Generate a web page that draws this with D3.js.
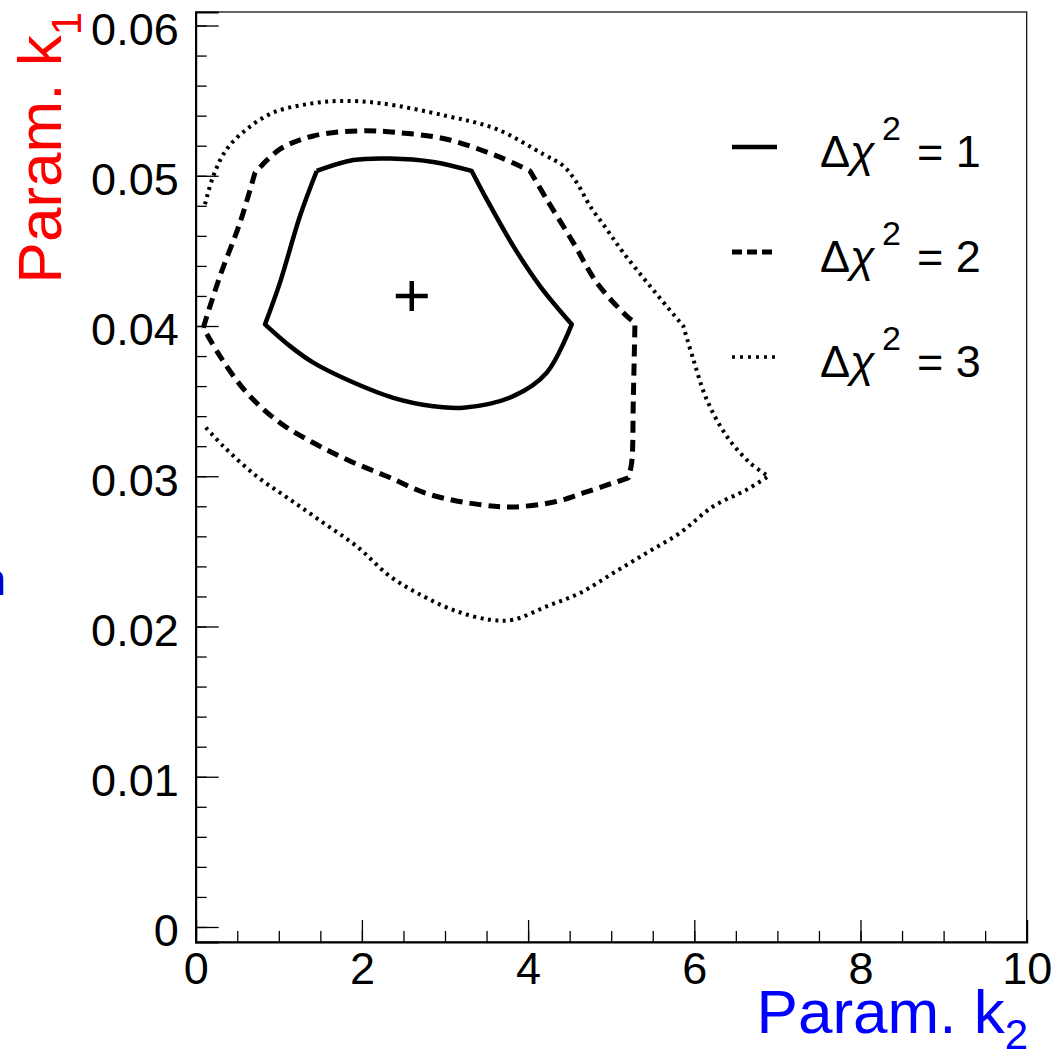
<!DOCTYPE html>
<html>
<head>
<meta charset="utf-8">
<script src="https://cdn.jsdelivr.net/npm/d3@7"></script>
<style>
  body { margin: 0; background: #fff; }
  svg { display: block; font-family: "Liberation Sans", Arial, Helvetica, sans-serif; }
</style>
</head>
<body>
<svg id="canvas" width="1055" height="1052"></svg>
<script>
// contour points as [k2, k1]
let contour1 = [
  [1.456, 0.05032], [1.897, 0.05105], [2.338, 0.05115], [2.859, 0.05092], [3.321, 0.05032],
  [3.502, 0.04843], [3.822, 0.04532], [4.143, 0.04266], [4.525, 0.04011],
  [4.224, 0.03689], [3.822, 0.03533], [3.220, 0.03456], [2.859, 0.03466], [2.378, 0.03522],
  [1.817, 0.03644], [1.415, 0.03756], [1.135, 0.03866], [0.834, 0.04011],
  [1.014, 0.04289], [1.255, 0.04732], [1.456, 0.05032]
]
let corners1 = [0, 4, 8, 17, 20]

let contour2 = [
  [0.091, 0.03989], [0.292, 0.04332], [0.533, 0.04688], [0.714, 0.05021], [1.014, 0.05177],
  [1.415, 0.05265], [1.977, 0.05299], [2.419, 0.05288], [3.020, 0.05243], [3.622, 0.05132],
  [4.023, 0.05032], [4.224, 0.04843], [4.544, 0.04555], [4.826, 0.04289], [5.187, 0.04066],
  [5.286, 0.04022], [5.266, 0.03511], [5.246, 0.03089], [5.206, 0.02989], [4.664, 0.02889],
  [4.324, 0.02830], [3.822, 0.02796], [3.421, 0.02811], [2.820, 0.02878], [2.298, 0.03000],
  [1.817, 0.03111], [1.415, 0.03223], [1.014, 0.03356], [0.614, 0.03556], [0.292, 0.03800],
  [0.091, 0.03989]
]
let corners2 = [0, 3, 10, 15, 18, 30]

let contour3 = [
  [0.112, 0.04810], [0.212, 0.04999], [0.373, 0.05177], [0.614, 0.05310], [0.934, 0.05421],
  [1.336, 0.05476], [1.736, 0.05498], [2.218, 0.05483], [3.020, 0.05398], [3.622, 0.05310],
  [4.183, 0.05143], [4.424, 0.05065], [4.585, 0.04955], [4.745, 0.04799], [4.946, 0.04644],
  [5.146, 0.04488], [5.467, 0.04266], [5.868, 0.03999], [5.988, 0.03778], [6.149, 0.03511],
  [6.390, 0.03267], [6.670, 0.03089], [6.891, 0.03000],
  [6.631, 0.02911], [6.229, 0.02800], [5.828, 0.02623], [5.427, 0.02490], [5.025, 0.02356],
  [4.625, 0.02223], [4.224, 0.02134], [3.822, 0.02045], [3.541, 0.02045], [3.141, 0.02101],
  [2.739, 0.02201], [2.338, 0.02334], [1.937, 0.02534], [1.536, 0.02690], [1.135, 0.02845],
  [0.734, 0.03000], [0.332, 0.03200], [0.091, 0.03344]
]
let corners3 = [0, 17, 22, 40]

let bestFit = [2.60, 0.0420]
let legendLabels = ['1', '2', '3']
let xTicks = [0, 2, 4, 6, 8, 10]
let xMinorTicks = d3.range(0, 10.001, 0.5)
let yTicks = [0, 0.01, 0.02, 0.03, 0.04, 0.05, 0.06]
let yMinorTicks = d3.range(0, 0.0601, 0.002)

let canvas = d3.select('#canvas')

let xScale = d3.scaleLinear().domain([0, 10]).range([195.7, 1026.7])
let yScale = d3.scaleLinear().domain([-0.001, 0.0609]).range([942, 12])

let line = d3.line()
  .x((d) => xScale(d[0]))
  .y((d) => yScale(d[1]))
  .curve(d3.curveCatmullRom.alpha(0.5))

// smooth between corners, sharp at corners, one continuous subpath
let contourPath = (points, corners) => {
  let d = ''
  for (let i = 0; i < corners.length - 1; i++) {
    let seg = line(points.slice(corners[i], corners[i + 1] + 1))
    d += i === 0 ? seg : 'L' + seg.slice(1)
  }
  return d
}

// frame
canvas.append('rect')
  .attr('x', xScale.range()[0])
  .attr('y', yScale.range()[1])
  .attr('width', xScale.range()[1] - xScale.range()[0])
  .attr('height', yScale.range()[0] - yScale.range()[1])
  .attr('fill', 'none')
  .attr('stroke', '#000')
  .attr('stroke-width', 1.2)

// x axis
let xMinor = canvas.append('g')
  .attr('transform', 'translate(0,942)')
  .call(d3.axisBottom(xScale).tickValues(xMinorTicks).tickSize(-11).tickFormat(''))
xMinor.select('.domain').remove()

let xMajor = canvas.append('g')
  .attr('transform', 'translate(0,942)')
  .call(d3.axisBottom(xScale).tickValues(xTicks).tickSize(-22).tickPadding(10).tickFormat(d3.format('d')))
xMajor.select('.domain').attr('stroke-width', 2)
xMajor.selectAll('text')
  .attr('font-size', 45)
  .attr('font-family', '"Liberation Sans", Arial, sans-serif')

// y axis
let yMinor = canvas.append('g')
  .attr('transform', 'translate(195.7,0)')
  .call(d3.axisLeft(yScale).tickValues(yMinorTicks).tickSize(-11).tickFormat(''))
yMinor.select('.domain').remove()

let yMajor = canvas.append('g')
  .attr('transform', 'translate(195.7,0)')
  .call(d3.axisLeft(yScale).tickValues(yTicks).tickSize(-23).tickPadding(17)
    .tickFormat((d) => d === 0 ? '0' : d3.format('.2f')(d)))
yMajor.select('.domain').attr('stroke-width', 2)
yMajor.selectAll('text')
  .attr('font-size', 45)
  .attr('dy', '0.42em')
  .attr('font-family', '"Liberation Sans", Arial, sans-serif')

canvas.selectAll('.tick line').attr('stroke-width', 1.3)

// contours
let styles = [
  { data: contour1, corners: corners1, dash: null, width: 4.5 },
  { data: contour2, corners: corners2, dash: '12,7', width: 5 },
  { data: contour3, corners: corners3, dash: '3,4.5', width: 4 }
]

canvas.selectAll('path.contour')
  .data(styles)
  .enter()
  .append('path')
  .attr('class', 'contour')
  .attr('d', (s) => contourPath(s.data, s.corners))
  .attr('fill', 'none')
  .attr('stroke', '#000')
  .attr('stroke-width', (s) => s.width)
  .attr('stroke-dasharray', (s) => s.dash)
  .attr('stroke-linejoin', 'round')

// best fit marker
let bx = xScale(bestFit[0])
let by = yScale(bestFit[1])
canvas.append('path')
  .attr('d', `M${bx - 16},${by}H${bx + 16}M${bx},${by - 15}V${by + 15}`)
  .attr('stroke', '#000')
  .attr('stroke-width', 4.5)

// legend
let legendDash = [null, '10,5', '3,5']
let legendWidth = [4.5, 5, 3.5]
let legend = canvas.selectAll('g.legend')
  .data(legendLabels)
  .enter()
  .append('g')
  .attr('class', 'legend')
  .attr('transform', (d, i) => `translate(0,${i * 105})`)

legend.append('line')
  .attr('x1', 732).attr('x2', 777)
  .attr('y1', 147).attr('y2', 147)
  .attr('stroke', '#000')
  .attr('stroke-width', (d, i) => legendWidth[i])
  .attr('stroke-dasharray', (d, i) => legendDash[i])

let legendText = legend.append('text')
  .attr('x', 820)
  .attr('y', 167)
  .attr('font-size', 45)
legendText.append('tspan').text('Δ')
legendText.append('tspan').attr('font-style', 'italic').text('χ')
legendText.append('tspan').attr('x', 882).attr('font-size', 34).attr('dy', -27).text('2')
legendText.append('tspan').attr('x', 917).attr('dy', 27).text((d) => '= ' + d)

// axis titles
let yTitle = canvas.append('text')
  .attr('transform', 'translate(61,12) rotate(-90)')
  .attr('text-anchor', 'end')
  .attr('font-size', 62)
  .attr('fill', '#ff0000')
yTitle.append('tspan').text('Param. k')
yTitle.append('tspan').attr('font-size', 42).attr('dy', 20).text('1')

let xTitle = canvas.append('text')
  .attr('x', 1028)
  .attr('y', 1033)
  .attr('text-anchor', 'end')
  .attr('font-size', 62)
  .attr('fill', '#0000ff')
xTitle.append('tspan').text('Param. k')
xTitle.append('tspan').attr('font-size', 42).attr('dy', 16).text('2')

// clipped leftover label at left edge
canvas.append('text')
  .attr('x', -19)
  .attr('y', 595)
  .attr('font-size', 45)
  .attr('fill', '#0000cc')
  .text('n')
</script>
</body>
</html>
